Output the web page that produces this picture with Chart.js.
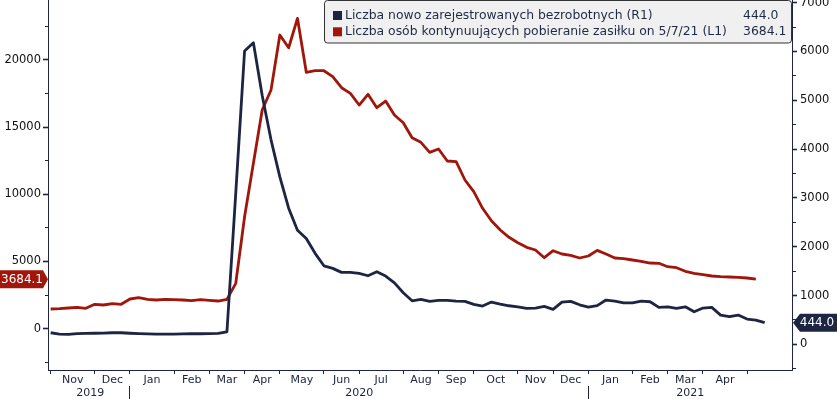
<!DOCTYPE html>
<html><head><meta charset="utf-8">
<script src="https://cdn.jsdelivr.net/npm/chart.js@4/dist/chart.umd.min.js"></script>
<style>html,body{margin:0;padding:0;background:#fff;overflow:hidden}</style>
</head><body>
<canvas id="c" width="837" height="399"></canvas>
<script>
// weekly data (Fridays), index 0 = 1 Nov 2019
const newClaims = [238, 210, 205, 222, 225, 228, 230, 238, 238, 228, 220, 215, 212, 210, 212, 215, 218, 218, 222, 225, 258,
  3100, 6010, 6180, 5100, 4190, 3430, 2790, 2340, 2170, 1865, 1610, 1557, 1475, 1475, 1455, 1406, 1488, 1400, 1260,
  1057, 893, 922, 881, 902, 902, 887, 881, 820, 785, 867, 826, 791, 770, 738, 744, 779, 717, 867, 881, 811,
  765, 795, 908, 887, 852, 852, 887, 873, 758, 770, 738, 770, 668, 744, 758, 600, 566, 600, 518, 498, 444];
const continuingClaims = [1466, 1488, 1540, 1592, 1518, 1815, 1763, 1860, 1815, 2210, 2306, 2187, 2135, 2187, 2158, 2135, 2083, 2158, 2113, 2060, 2180,
  3378, 8333, 12306, 16271, 17760, 21851, 20906, 23094, 19076, 19195, 19195, 18749, 17930, 17514, 16643, 17440, 16442, 16941, 15899,
  15326, 14210, 13868, 13124, 13370, 12477, 12425, 11063, 10193, 8958, 8035, 7343, 6800, 6398, 6056, 5855, 5282, 5803, 5558, 5461, 5260,
  5409, 5830, 5558, 5260, 5208, 5111, 5015, 4888, 4866, 4613, 4538, 4271, 4122, 4018, 3921, 3869, 3846, 3824, 3772, 3684.1];
const seriesNames = ['Liczba nowo zarejestrowanych bezrobotnych (R1)', 'Liczba osób kontynuujących pobieranie zasiłku on 5/7/21 (L1)'];
const monthStartWeeks = [0, 5, 9, 14, 18, 22, 26, 31, 35, 40, 44, 48, 53, 57, 61, 66, 70, 74, 79];
const monthLabels = ['Nov', 'Dec', 'Jan', 'Feb', 'Mar', 'Apr', 'May', 'Jun', 'Jul', 'Aug', 'Sep', 'Oct', 'Nov', 'Dec', 'Jan', 'Feb', 'Mar', 'Apr'];
const yearLabels = ['2019', '2020', '2021'];
const yearStartWeeks = [0, 9, 61];
const leftTickValues = [-2500, 0, 2500, 5000, 7500, 10000, 12500, 15000, 17500, 20000, 22500];
const rightTickValues = [-500, 0, 500, 1000, 1500, 2000, 2500, 3000, 3500, 4000, 4500, 5000, 5500, 6000, 6500, 7000];

const NAVY = '#1c2541', RED = '#a0160b', FONT = 'DejaVu Sans';
const X_MIN = -0.3, X_MAX = 84.1;

// month axis items: boundaries (tick marks) + centres (labels)
const monthItems = [];
monthStartWeeks.forEach((w, i) => {
  monthItems.push({value: w, label: ''});
  if (i < monthLabels.length) monthItems.push({value: (w + monthStartWeeks[i + 1]) / 2, label: monthLabels[i]});
});
const yearItems = [];
yearStartWeeks.forEach((w, i) => {
  const end = i + 1 < yearStartWeeks.length ? yearStartWeeks[i + 1] : X_MAX;
  if (i > 0) yearItems.push({value: w, label: ''});
  yearItems.push({value: (w + end) / 2, label: yearLabels[i]});
});

function noPad(scale) { scale.paddingTop = 0; scale.paddingBottom = 0; scale.paddingLeft = 0; scale.paddingRight = 0; }

const overlay = {
  id: 'overlay',
  afterDraw(chart) {
    const ctx = chart.ctx;
    ctx.save();
    // legend box
    ctx.beginPath();
    ctx.roundRect(324.5, 0.5, 467, 42.5, 3);
    ctx.fillStyle = '#f0f0f0'; ctx.fill();
    ctx.strokeStyle = '#333'; ctx.lineWidth = 1; ctx.stroke();
    const rows = [
      {c: NAVY, name: seriesNames[0], val: newClaims[newClaims.length - 1].toFixed(1), y: 15.5},
      {c: RED, name: seriesNames[1], val: continuingClaims[continuingClaims.length - 1].toFixed(1), y: 31.8}
    ];
    ctx.font = '12.4px "' + FONT + '"';
    ctx.textBaseline = 'middle';
    rows.forEach(r => {
      ctx.fillStyle = r.c; ctx.fillRect(333, r.y - 4.5, 9, 9);
      ctx.fillStyle = '#1f2a44';
      ctx.textAlign = 'left';
      ctx.fillText(r.name, 345, r.y);
      ctx.fillText(r.val, 743, r.y);
    });
    // last value tags
    ctx.font = '12px "' + FONT + '"';
    const yl = chart.scales.yL.getPixelForValue(continuingClaims[continuingClaims.length - 1]);
    ctx.beginPath();
    ctx.moveTo(0, yl - 9); ctx.lineTo(43, yl - 9); ctx.lineTo(48, yl); ctx.lineTo(43, yl + 9); ctx.lineTo(0, yl + 9); ctx.closePath();
    ctx.fillStyle = RED; ctx.fill();
    ctx.fillStyle = '#fff'; ctx.textAlign = 'center';
    ctx.fillText(continuingClaims[continuingClaims.length - 1].toFixed(1), 22, yl + 0.5);
    const yr = chart.scales.yR.getPixelForValue(newClaims[newClaims.length - 1]);
    ctx.beginPath();
    ctx.moveTo(793, yr); ctx.lineTo(800, yr - 9); ctx.lineTo(837, yr - 9); ctx.lineTo(837, yr + 9); ctx.lineTo(800, yr + 9); ctx.closePath();
    ctx.fillStyle = NAVY; ctx.fill();
    ctx.fillStyle = '#fff'; ctx.textAlign = 'center';
    ctx.fillText(newClaims[newClaims.length - 1].toFixed(1), 817, yr + 0.5);
    ctx.restore();
  }
};

new Chart(document.getElementById('c'), {
  type: 'line',
  data: {
    datasets: [
      {label: seriesNames[0], data: newClaims.map((v, i) => ({x: i, y: v})), yAxisID: 'yR', xAxisID: 'x',
       borderColor: NAVY, borderWidth: 2.8, pointRadius: 0, tension: 0, borderJoinStyle: 'round', fill: false},
      {label: seriesNames[1], data: continuingClaims.map((v, i) => ({x: i, y: v})), yAxisID: 'yL', xAxisID: 'x',
       borderColor: RED, borderWidth: 2.8, pointRadius: 0, tension: 0, borderJoinStyle: 'round', fill: false}
    ]
  },
  options: {
    responsive: false, animation: false, devicePixelRatio: 1,
    layout: {padding: 0},
    plugins: {legend: {display: false}, tooltip: {enabled: false}},
    scales: {
      x: {
        type: 'linear', position: 'bottom', weight: 0, min: X_MIN, max: X_MAX,
        afterBuildTicks: s => { s.ticks = monthItems.map(t => ({value: t.value})); },
        afterFit: s => { s.height = 16; noPad(s); },
        ticks: {autoSkip: false, maxRotation: 0, padding: 0, color: '#1a2340', font: {family: FONT, size: 11},
                callback: (v, i) => monthItems[i].label},
        grid: {drawOnChartArea: false, drawTicks: true, tickLength: 4, tickWidth: 1,
               tickColor: c => (monthItems[c.index] && monthItems[c.index].label === '') ? NAVY : 'rgba(0,0,0,0)'},
        border: {display: true, color: NAVY, width: 1}
      },
      xYear: {
        type: 'linear', position: 'bottom', weight: 1, min: X_MIN, max: X_MAX,
        afterBuildTicks: s => { s.ticks = yearItems.map(t => ({value: t.value})); },
        afterFit: s => { s.height = 13; noPad(s); },
        ticks: {autoSkip: false, maxRotation: 0, padding: -12, color: '#1a2340', font: {family: FONT, size: 11},
                callback: (v, i) => yearItems[i].label},
        grid: {drawOnChartArea: false, drawTicks: true, tickLength: 13, tickWidth: 1,
               tickColor: c => (yearItems[c.index] && yearItems[c.index].label === '') ? NAVY : 'rgba(0,0,0,0)'},
        border: {display: false}
      },
      yL: {
        type: 'linear', position: 'left', min: -3073, max: 24457,
        afterBuildTicks: s => { s.ticks = leftTickValues.map(v => ({value: v})); },
        afterFit: s => { s.width = 48; noPad(s); },
        ticks: {autoSkip: false, padding: 2, color: '#111', font: {family: FONT, size: 11.5},
                callback: v => (v % 5000 === 0 ? String(v) : '')},
        grid: {drawOnChartArea: false, drawTicks: true, tickLength: 5, tickColor: NAVY,
               tickWidth: c => (c.tick && c.tick.value % 5000 === 0 ? 1.6 : 1),
               tickBorderDash: c => (c.tick && c.tick.value % 5000 === 0 ? [] : [0, 2, 4, 10])},
        border: {display: true, color: NAVY, width: 1}
      },
      yR: {
        type: 'linear', position: 'right', min: -525, max: 7055,
        afterBuildTicks: s => { s.ticks = rightTickValues.map(v => ({value: v})); },
        afterFit: s => { s.width = 45; noPad(s); },
        ticks: {autoSkip: false, padding: 3, color: '#111', font: {family: FONT, size: 11.5},
                callback: v => (v % 1000 === 0 ? String(v) : '')},
        grid: {drawOnChartArea: false, drawTicks: true, tickLength: 5, tickColor: NAVY,
               tickWidth: c => (c.tick && c.tick.value % 1000 === 0 ? 1.6 : 1),
               tickBorderDash: c => (c.tick && c.tick.value % 1000 === 0 ? [] : [3, 10])},
        border: {display: true, color: NAVY, width: 1}
      }
    }
  },
  plugins: [overlay]
});
</script>
</body></html>
